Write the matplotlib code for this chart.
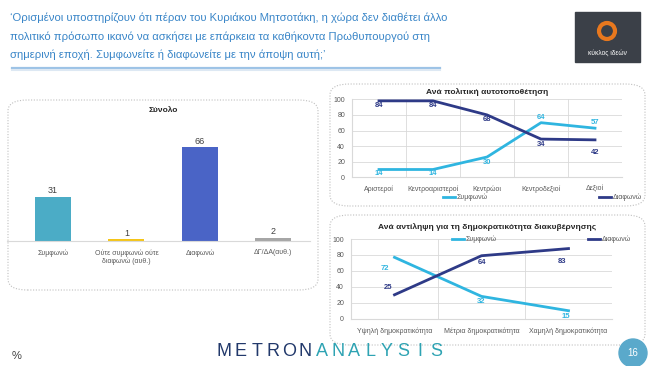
import matplotlib.pyplot as plt
import numpy as np
from matplotlib.patches import FancyBboxPatch, Rectangle, Ellipse
from matplotlib.lines import Line2D

plt.rcParams['font.family'] = ['Liberation Sans', 'DejaVu Sans']

W, H = 650, 366

# --- data ---
title_lines = ["‘Ορισμένοι υποστηρίζουν ότι πέραν του Κυριάκου Μητσοτάκη, η χώρα δεν διαθέτει άλλο",
               "πολιτικό πρόσωπο ικανό να ασκήσει με επάρκεια τα καθήκοντα Πρωθυπουργού στη",
               "σημερινή εποχή. Συμφωνείτε ή διαφωνείτε με την άποψη αυτή;’"]

total_cats = ["Συμφωνώ", "Ούτε συμφωνώ ούτε\nδιαφωνώ (αυθ.)", "Διαφωνώ", "ΔΓ/ΔΑ(αυθ.)"]
total_vals = [31, 1, 66, 2]
total_colors = ["#4BACC6", "#F5C518", "#4A64C6", "#A6A6A6"]

pol_cats = ["Αριστεροί", "Κεντροαριστεροί", "Κεντρώοι", "Κεντροδεξιοί", "Δεξιοί"]
# line positions as drawn and the labels printed on them
pol_agree = [10, 10, 26, 70, 63]
pol_agree_lbl = [14, 14, 30, 64, 57]
pol_disagree = [98, 98, 80, 49, 48]
pol_disagree_lbl = [84, 84, 68, 34, 42]

dem_cats = ["Υψηλή δημοκρατικότητα", "Μέτρια δημοκρατικότητα", "Χαμηλή δημοκρατικότητα"]
dem_agree = [77, 28, 10]
dem_agree_lbl = [72, 32, 15]
dem_disagree = [30, 79, 88]
dem_disagree_lbl = [25, 64, 83]

c_agree = "#2FB5E0"
c_dis = "#2E3A87"
grid_c = "#D9D9D9"
txt_c = "#595959"


def fx(x):
    return x / W


def fy(y):
    return 1 - y / H


def box(x0, y0, x1, y1):
    return [fx(x0), fy(y1), (x1 - x0) / W, (y1 - y0) / H]


fig = plt.figure(figsize=(6.5, 3.66), dpi=100)
fig.patch.set_facecolor("white")

# header
for i, line in enumerate(title_lines):
    fig.text(fx(10), fy(18 + i * 18.5), line, color="#3A86C8", fontsize=8.1,
             va="center", ha="left")
fig.add_artist(Line2D([fx(12), fx(440)], [fy(68), fy(68)], color="#9DC3E6", lw=1.6))
fig.add_artist(Line2D([fx(12), fx(440)], [fy(70), fy(70)], color="#DDE8F3", lw=1.5))

# logo
fig.add_artist(Rectangle((fx(575), fy(62)), 65 / W, 50 / H, color="#3B4048"))
fig.add_artist(Ellipse((fx(607), fy(31)), 16 / W, 16 / H, fill=False, ec="#E8781E", lw=3))
fig.text(fx(607), fy(53), "κύκλος ιδεών", color="white", fontsize=4.8, ha="center", va="center")

# panel frames
for (x0, y0, x1, y1) in [(8, 100, 318, 290), (330, 84, 645, 206), (330, 215, 645, 345)]:
    fig.add_artist(FancyBboxPatch((fx(x0), fy(y1)), (x1 - x0) / W, (y1 - y0) / H,
                                  boxstyle="round,pad=0,rounding_size=0.03",
                                  fill=False, ec="#BFBFBF", lw=0.8, ls=(0, (1, 1.5))))

# --- total bars ---
ax = fig.add_axes(box(7, 99.2, 310, 240.7))
x = np.arange(len(total_cats))
ax.bar(x, total_vals, width=0.49, color=total_colors)
for xi, v in zip(x, total_vals):
    ax.text(xi, v + 1.2, str(v), ha="center", va="bottom", fontsize=6.5, color="#404040")
ax.set_xlim(-0.627, 3.5)
ax.set_ylim(0, 100)
ax.set_yticks([])
ax.set_xticks(x)
ax.set_xticklabels(total_cats, fontsize=5, color=txt_c)
ax.tick_params(axis="x", length=0, pad=6)
for s in ["top", "right", "left"]:
    ax.spines[s].set_visible(False)
ax.spines["bottom"].set_color(grid_c)
ax.patch.set_alpha(0)
fig.text(fx(163), fy(111), "Σύνολο", fontsize=6, fontweight="bold", ha="center", va="center",
         color="#262626")


def line_panel(rect, cats, agree, agree_lbl, dis, dis_lbl, agree_off, dis_off):
    a = fig.add_axes(rect)
    xs = np.arange(len(cats))
    a.plot(xs, agree, color=c_agree, lw=2)
    a.plot(xs, dis, color=c_dis, lw=2)
    for xi, v, l, o in zip(xs, agree, agree_lbl, agree_off):
        a.annotate(str(l), (xi, v), xytext=o, textcoords="offset points", ha="center",
                   va="center", fontsize=5.5, color=c_agree, fontweight="bold")
    for xi, v, l, o in zip(xs, dis, dis_lbl, dis_off):
        a.annotate(str(l), (xi, v), xytext=o, textcoords="offset points", ha="center",
                   va="center", fontsize=5.5, color=c_dis, fontweight="bold")
    a.set_xlim(-0.5, len(cats) - 0.5)
    a.set_ylim(0, 100)
    a.set_yticks(range(0, 101, 20))
    a.set_xticks(xs)
    a.set_xticklabels(cats, fontsize=5, color=txt_c)
    a.set_xticks(np.arange(len(cats) + 1) - 0.5, minor=True)
    a.tick_params(axis="y", labelsize=5, labelcolor=txt_c, length=0, pad=5)
    a.tick_params(axis="x", which="both", length=0, pad=6)
    a.grid(axis="y", color=grid_c, lw=0.6)
    a.grid(axis="x", which="minor", color=grid_c, lw=0.6)
    a.set_axisbelow(True)
    for s in ["top", "right"]:
        a.spines[s].set_visible(False)
    a.spines["left"].set_color(grid_c)
    a.spines["bottom"].set_color(grid_c)
    a.patch.set_alpha(0)
    return a


line_panel(box(352, 99.3, 622, 177.3), pol_cats, pol_agree, pol_agree_lbl, pol_disagree,
           pol_disagree_lbl,
           [(0, -3), (0, -3), (0, -4), (0, 4), (0, 4)],
           [(0, -3), (0, -3), (0, -3), (0, -4), (0, -9)])
fig.text(fx(487), fy(92), "Ανά πολιτική αυτοτοποθέτηση", fontsize=6, fontweight="bold",
         ha="center", va="center", color="#262626")
fig.add_artist(Line2D([fx(443), fx(455)], [fy(197), fy(197)], color=c_agree, lw=2))
fig.text(fx(457), fy(197), "Συμφωνώ", fontsize=5, color=txt_c, va="center")
fig.add_artist(Line2D([fx(599), fx(611)], [fy(197), fy(197)], color=c_dis, lw=2))
fig.text(fx(613), fy(197), "Διαφωνώ", fontsize=5, color=txt_c, va="center")

line_panel(box(351, 239, 612, 318.7), dem_cats, dem_agree, dem_agree_lbl, dem_disagree,
           dem_disagree_lbl,
           [(-7, -8), (0, -4), (-2, -4)],
           [(-5, 5), (0, -5), (-5, -9)])
fig.text(fx(487), fy(227), "Ανά αντίληψη για τη δημοκρατικότητα διακυβέρνησης", fontsize=6,
         fontweight="bold", ha="center", va="center", color="#262626")
fig.add_artist(Line2D([fx(452), fx(464)], [fy(239), fy(239)], color=c_agree, lw=2))
fig.text(fx(466), fy(239), "Συμφωνώ", fontsize=5, color=txt_c, va="center")
fig.add_artist(Line2D([fx(588), fx(600)], [fy(239), fy(239)], color=c_dis, lw=2))
fig.text(fx(602), fy(239), "Διαφωνώ", fontsize=5, color=txt_c, va="center")

# footer
fig.text(fx(12), fy(356), "%", fontsize=8, color="#404040", va="center")
brand = "METRONANALYSIS"
for i, ch in enumerate(brand):
    col = "#22396B" if i < 6 else "#2EA3B3"
    fig.text(fx(224 + i * 16.3), fy(352), ch, fontsize=13, color=col, ha="center", va="center")
fig.add_artist(Ellipse((fx(633), fy(353)), 28 / W, 28 / H, color="#5AA9CB"))
fig.text(fx(633), fy(353), "16", fontsize=7, color="white", ha="center", va="center")

fig.savefig("out.png", dpi=100)
